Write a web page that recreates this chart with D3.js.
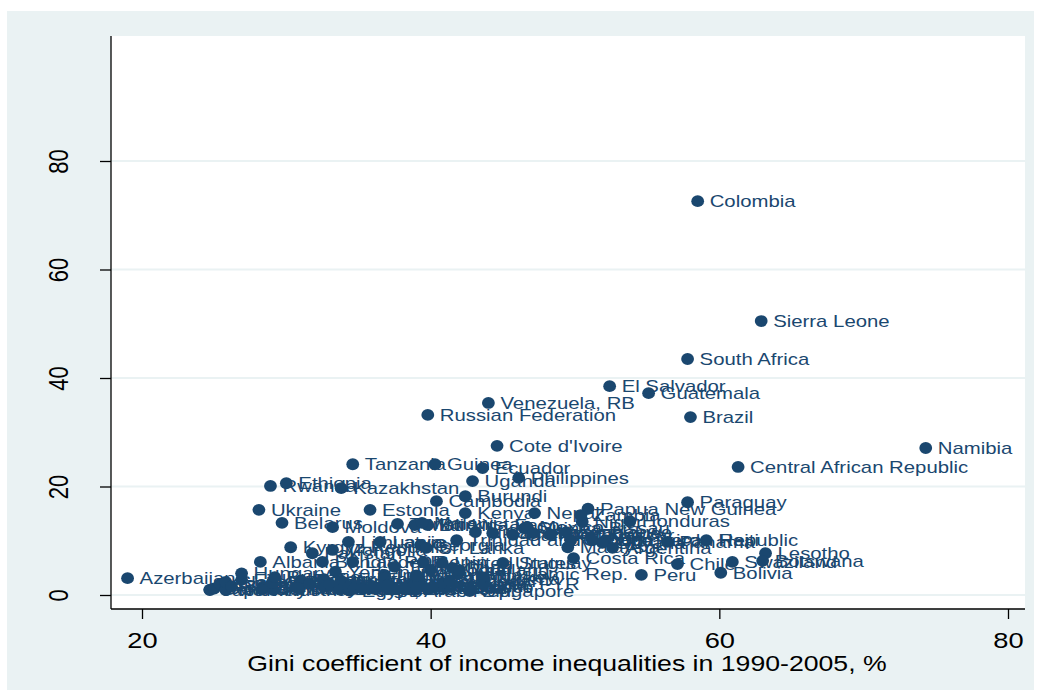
<!DOCTYPE html>
<html>
<head>
<meta charset="utf-8">
<script src="https://cdn.jsdelivr.net/npm/d3@7"></script>
<style>
	body { margin: 0; background: #fff; }
	text { font-family: "Liberation Sans", Arial, sans-serif; }
</style>
</head>
<body>
<svg id="chart" width="1041" height="697"></svg>
<script>
// country labels, Gini (x) and rate per 100,000 (y)
const countries = [
	"Colombia", "Sierra Leone", "South Africa", "El Salvador", "Guatemala",
	"Venezuela, RB", "Russian Federation", "Brazil", "Cote d'Ivoire", "Namibia",
	"Tanzania", "Guinea", "Central African Republic", "Ecuador", "Uganda",
	"Philippines", "Ethiopia", "Rwanda", "Kazakhstan", "Burundi",
	"Cambodia", "Paraguay", "Ukraine", "Estonia", "Kenya",
	"Nepal", "Papua New Guinea", "Niger", "Honduras", "Belarus",
	"Moldova", "Haiti", "Dominican Republic", "Panama", "Argentina",
	"Lesotho", "Botswana", "Swaziland", "Chile", "Costa Rica",
	"Peru", "Bolivia", "Kyrgyz Republic", "Albania", "Azerbaijan",
	"United States", "Singapore", "Japan", "Guinea-Bissau", "Burkina Faso",
	"Uruguay", "Iran, Islamic Rep.", "Pakistan", "Mongolia", "Lithuania",
	"Latvia", "Bangladesh", "Lao PDR", "Turkmenistan", "Mali",
	"Malawi", "Georgia", "Sri Lanka", "Trinidad and Tobago", "Nicaragua",
	"Cameroon", "Gambia, The", "Mexico", "Mozambique", "Madagascar",
	"Zimbabwe", "Malaysia", "Gabon", "Zambia", "Cape Verde",
	"Guyana", "Benin", "Togo", "Djibouti", "Chad",
	"Denmark", "Sweden", "Czech Republic", "Norway", "Slovak Republic",
	"Bosnia and Herzegovina", "Finland", "Hungary", "Slovenia", "Germany",
	"Austria", "Croatia", "Bulgaria", "Romania", "Netherlands",
	"Luxembourg", "Korea, Rep.", "Tajikistan", "Canada", "France",
	"Belgium", "Armenia", "Yemen, Rep.", "Switzerland", "Egypt, Arab Rep.",
	"Indonesia", "Greece", "Ireland", "Poland", "Spain",
	"Australia", "Algeria", "Italy", "United Kingdom", "New Zealand",
	"India", "Uzbekistan", "Vietnam", "Portugal", "Jordan",
	"Macedonia, FYR", "Israel", "Tunisia", "Morocco", "Ghana",
	"Senegal", "Nigeria", "Turkey", "Mauritania", "Thailand"
];

const gini = [
	58.5, 62.9, 57.8, 52.4, 55.1,
	44.0, 39.8, 58.0, 44.6, 74.3,
	34.6, 40.3, 61.3, 43.6, 42.9,
	46.1, 30.0, 28.9, 33.8, 42.4,
	40.4, 57.8, 28.1, 35.8, 42.4,
	47.2, 50.9, 50.5, 53.8, 29.7,
	33.2, 59.1, 52.1, 56.4, 52.6,
	63.2, 63.0, 60.9, 57.1, 49.9,
	54.6, 60.1, 30.3, 28.2, 19.0,
	40.8, 42.7, 24.7, 46.5, 39.8,
	45.0, 41.9, 31.8, 33.2, 34.3,
	36.5, 32.5, 34.6, 37.7, 38.9,
	39.4, 39.3, 39.7, 41.8, 43.1,
	44.3, 45.7, 46.7, 47.1, 48.3,
	49.4, 49.5, 49.7, 50.4, 51.2,
	51.9, 39.5, 37.5, 40.0, 41.5,
	24.7, 25.0, 25.4, 25.8, 25.8,
	26.2, 26.9, 26.9, 28.4, 28.3,
	29.1, 29.0, 29.2, 31.0, 30.9,
	30.8, 31.6, 32.6, 32.6, 32.7,
	33.0, 33.8, 33.4, 33.7, 34.4,
	34.3, 34.3, 34.3, 34.5, 34.7,
	35.2, 35.3, 36.0, 36.0, 36.2,
	36.8, 36.8, 37.0, 38.5, 38.8,
	39.0, 39.2, 39.8, 40.9, 40.8,
	41.3, 43.7, 43.6, 39.0, 42.0
];

const rate = [
	72.6, 50.5, 43.5, 38.5, 37.2,
	35.4, 33.2, 32.8, 27.5, 27.1,
	24.1, 24.1, 23.6, 23.4, 21.0,
	21.6, 20.6, 20.1, 19.7, 18.2,
	17.3, 17.1, 15.7, 15.7, 15.1,
	15.1, 15.9, 13.5, 13.6, 13.3,
	12.5, 10.1, 10.1, 9.8, 8.7,
	7.7, 6.3, 6.1, 5.7, 6.8,
	3.7, 4.1, 8.8, 6.1, 3.1,
	5.9, 0.7, 0.9, 12.3, 12.9,
	5.9, 3.9, 7.7, 8.3, 9.8,
	9.8, 6.1, 6.1, 13.1, 12.9,
	13.3, 9.2, 8.7, 10.1, 11.6,
	11.4, 11.1, 12.5, 11.4, 11.1,
	11.6, 8.8, 10.1, 14.7, 10.1,
	9.6, 6.0, 5.2, 4.6, 5.0,
	1.0, 1.2, 2.0, 0.9, 2.4,
	1.6, 2.8, 4.0, 1.4, 1.0,
	0.9, 2.2, 3.3, 2.7, 1.1,
	1.3, 2.1, 2.9, 1.8, 1.6,
	1.9, 2.6, 4.3, 1.0, 0.8,
	1.1, 1.2, 1.5, 1.7, 1.2,
	1.4, 1.1, 1.2, 1.6, 1.3,
	3.7, 3.2, 1.8, 1.9, 1.7,
	2.0, 2.6, 1.2, 1.4, 2.2,
	2.6, 2.9, 3.3, 3.6, 4.6
];

const xTicks = [20, 40, 60, 80];
const yTicks = [0, 20, 40, 60, 80];
const xTitle = "Gini coefficient of income inequalities in 1990-2005, %";

const navy = "#1a476f";
const band = "#eaf2f3";
const stretch = 1.24; // the picture's text is wider than it is tall

const points = countries.map((name, i) => ({ name, gini: gini[i], rate: rate[i] }));

const svg = d3.select("#chart");

// outer graph region and white plot region
svg.append("rect")
	.attr("x", 7).attr("y", 11)
	.attr("width", 1027).attr("height", 679)
	.attr("fill", band);

svg.append("rect")
	.attr("x", 111).attr("y", 36)
	.attr("width", 914).attr("height", 573)
	.attr("fill", "#fff");

const x = d3.scaleLinear().domain([20, 80]).range([142, 1008]);
const y = d3.scaleLinear().domain([0, 80]).range([595, 161]);

// gridlines
svg.append("g")
	.selectAll("line")
	.data(yTicks)
	.join("line")
	.attr("x1", 111).attr("x2", 1025)
	.attr("y1", d => y(d)).attr("y2", d => y(d))
	.attr("stroke", band)
	.attr("stroke-width", 2);

// x axis
const xAxis = svg.append("g")
	.attr("transform", "translate(0,609)")
	.call(d3.axisBottom(x).tickValues(xTicks).tickSize(10).tickPadding(13).tickFormat(d3.format("d")));

xAxis.select(".domain").remove();
xAxis.selectAll(".tick line").attr("stroke", "#000").attr("stroke-width", 1.3);
xAxis.selectAll(".tick text")
	.attr("fill", "#000")
	.style("font-size", "22px")
	.attr("transform", `scale(${stretch},1)`);

svg.append("line")
	.attr("x1", 111).attr("x2", 1025)
	.attr("y1", 609).attr("y2", 609)
	.attr("stroke", "#000").attr("stroke-width", 1.3);

// y axis
const yAxis = svg.append("g")
	.attr("transform", "translate(111,0)")
	.call(d3.axisLeft(y).tickValues(yTicks).tickSize(11).tickFormat(d3.format("d")));

yAxis.select(".domain").remove();
yAxis.selectAll(".tick line").attr("stroke", "#000").attr("stroke-width", 1.3);
yAxis.selectAll(".tick text")
	.attr("x", null).attr("dy", null)
	.attr("fill", "#000")
	.attr("text-anchor", "middle")
	.style("font-size", "22px")
	.attr("transform", `translate(-43,0) scale(${stretch},1) rotate(-90)`);

svg.append("line")
	.attr("x1", 111).attr("x2", 111)
	.attr("y1", 36).attr("y2", 609)
	.attr("stroke", "#000").attr("stroke-width", 1.3);

// axis title
svg.append("text")
	.attr("transform", `translate(567,671) scale(${stretch},1)`)
	.attr("text-anchor", "middle")
	.style("font-size", "21.5px")
	.attr("fill", "#000")
	.text(xTitle);

// markers
svg.append("g")
	.selectAll("ellipse")
	.data(points)
	.join("ellipse")
	.attr("cx", d => x(d.gini))
	.attr("cy", d => y(d.rate))
	.attr("rx", 6.4)
	.attr("ry", 5.9)
	.attr("fill", navy);

// marker labels, to the right of each point
svg.append("g")
	.selectAll("text")
	.data(points)
	.join("text")
	.attr("transform", d => `translate(${x(d.gini) + 12},${y(d.rate)}) scale(${stretch},1)`)
	.attr("dy", "0.36em")
	.style("font-size", "16.4px")
	.attr("fill", navy)
	.text(d => d.name);
</script>
</body>
</html>
